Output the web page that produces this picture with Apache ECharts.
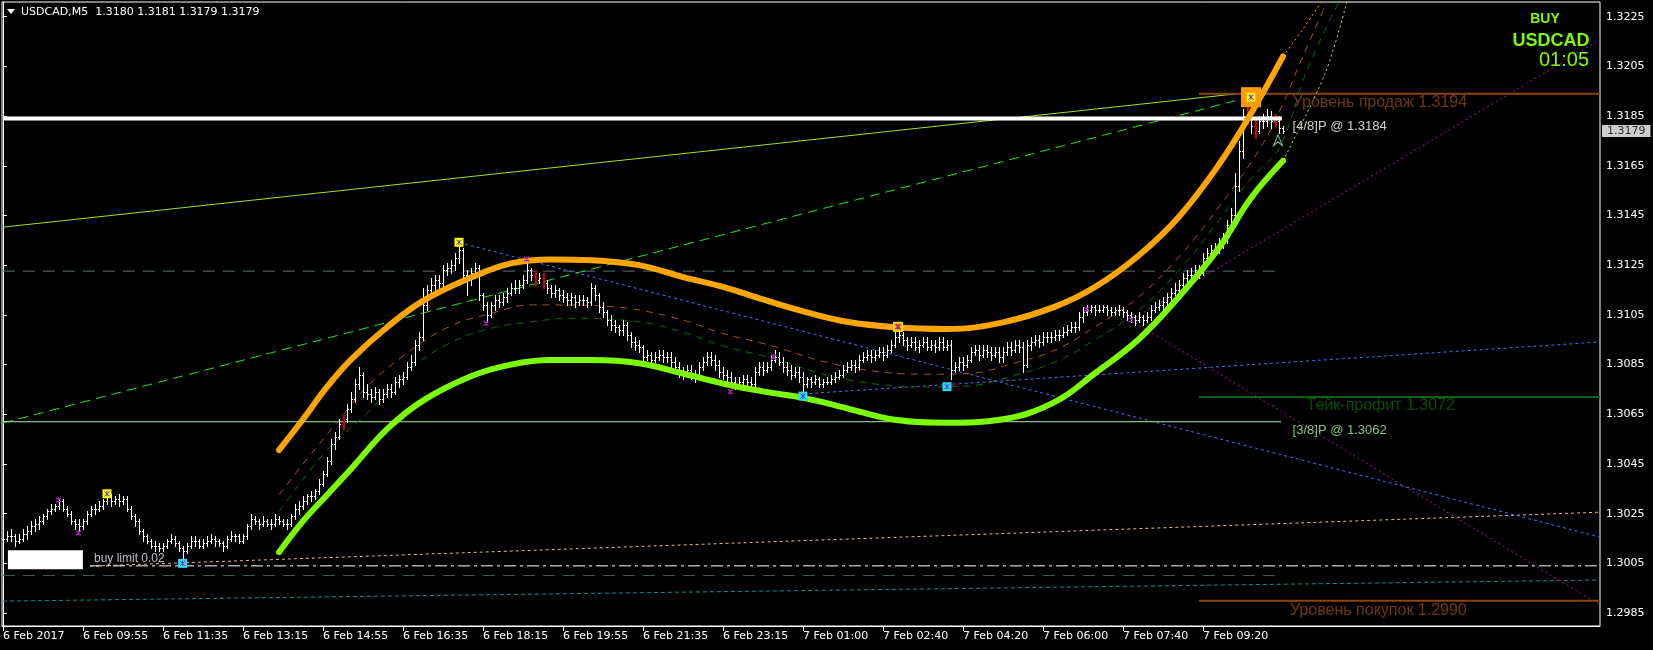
<!DOCTYPE html>
<html><head><meta charset="utf-8">
<script src="https://cdn.jsdelivr.net/npm/echarts@6/dist/echarts.min.js"></script>
<style>html,body{margin:0;padding:0;background:#000;}#c{width:1653px;height:650px;}</style>
</head><body><div id="c"></div>
<script>
// ---- DATA (prices as offsets in 0.0001 from 1.3000) ----
const timeLabelIdx = [0,20,40,60,80,100,120,140,160,180,200,220,240,260,280,300];
const timeLabels = ['6 Feb 2017','6 Feb 09:55','6 Feb 11:35','6 Feb 13:15','6 Feb 14:55','6 Feb 16:35','6 Feb 18:15','6 Feb 19:55','6 Feb 21:35','6 Feb 23:15','7 Feb 01:00','7 Feb 02:40','7 Feb 04:20','7 Feb 06:00','7 Feb 07:40','7 Feb 09:20'];
const priceTicks = [1.2985,1.3005,1.3025,1.3045,1.3065,1.3085,1.3105,1.3125,1.3145,1.3165,1.3185,1.3205,1.3225];

const openP = [15,15,16,16,14,15,17,18,20,21, 22,24,26,27,28,30,27,25,22,21, 20,22,25,27,27,28,30,32,30,31, 30,31,27,24,22,18,16,14,12,12,
11,12,14,15,13,11,10,12,14,14, 12,13,14,15,14,13,12,15,16,16, 14,16,20,23,22,21,22,21,21,23, 22,21,21,24,27,28,30,32,32,34,
37,41,46,53,56,61,63,67,71,77, 81,74,73,72,74,71,73,75,74,78, 79,80,84,86,93,96,109,115,117,119, 118,123,124,125,128,131,121,119,122,124,
113,109,105,109,111,110,112,114,116,116, 117,119,123,121,119,120,118,116,114,115, 113,112,111,112,110,111,111,110,116,113, 108,106,103,101,100,99,101,97,94,93,
92,88,89,87,88,89,88,88,86,84, 82,81,83,81,80,84,86,88,87,85, 82,81,80,78,77,78,79,78,77,82, 84,83,84,87,88,86,84,83,81,82,
80,77,79,78,79,77,78,78,79,80, 81,83,84,85,84,87,88,89,88,89, 90,89,91,93,96,97,95,93,94,92, 93,94,92,93,92,94,92,93,83,84,
86,85,87,90,91,89,91,90,89,90, 88,90,92,91,93,92,85,93,94,95, 94,96,96,96,97,97,98,99,100,100, 104,106,107,108,107,107,108,107,106,107,
107,106,105,104,103,104,103,104,107,108, 109,110,112,114,115,117,120,121,121,123, 122,128,130,131,132,134,136,141,145,157, 171,185,187,181,179,183,183,185,183,183, 180];
const highP = [17,18,19,17,17,19,20,22,23,24, 25,27,29,29,31,31,28,26,23,23, 23,26,28,29,30,31,33,33,32,33, 32,32,28,25,23,19,17,15,14,13,
13,15,17,16,14,12,13,16,16,15, 15,16,17,16,15,14,16,18,17,17, 17,21,25,24,23,24,23,23,25,24, 23,23,25,29,30,32,33,34,35,39,
42,48,55,58,63,65,69,74,79,84, 82,77,75,76,75,75,77,77,80,81, 82,86,89,95,98,116,117,120,121,121, 125,126,127,130,135,132,123,124,126,125,
114,110,110,113,113,114,116,118,119,119, 121,127,124,123,122,122,119,117,117,116, 115,114,114,113,113,113,112,118,117,114, 110,107,105,103,101,103,102,98,96,95,
93,91,90,90,91,91,90,90,88,86, 84,85,85,83,86,88,90,90,89,87, 84,83,82,80,80,81,81,80,84,86, 86,86,89,91,90,88,86,85,84,84,
82,80,80,81,80,79,80,81,82,83, 85,86,87,87,89,90,91,91,91,92, 92,93,95,98,100,98,96,96,96,95, 96,96,95,95,96,96,95,95,86,88,
88,89,92,93,93,93,93,92,92,92, 92,94,94,95,95,94,95,96,97,97, 98,98,98,99,99,100,101,102,102,106, 108,109,109,109,109,109,109,108,108,109,
108,107,106,105,106,105,106,109,110,111, 112,114,116,118,119,122,123,124,125,125, 130,132,133,134,136,138,143,148,162,175, 188,193,189,184,185,186,188,187,186,185, 181];
const lowP = [13,14,14,12,13,14,15,17,18,19, 21,23,25,26,27,26,24,21,19,18, 19,21,24,25,26,27,29,28,29,28, 29,26,23,20,17,14,13,11,10,10,
10,11,13,12,10,6,9,11,12,11, 11,12,13,12,12,10,11,14,14,13, 13,15,19,21,19,20,20,19,20,21, 20,19,20,23,25,27,29,30,31,33,
36,40,45,51,55,59,62,66,70,75, 72,71,70,71,69,70,72,72,73,76, 77,79,83,85,91,95,107,113,115,116, 116,121,122,123,126,118,113,117,120,111,
107,102,104,107,108,109,110,113,114,114, 116,118,119,117,118,116,114,112,112,111, 110,109,109,108,109,109,108,109,111,106, 104,101,99,98,97,97,95,92,91,90,
86,87,85,86,87,86,86,84,82,80, 79,80,79,78,79,83,85,85,83,80, 79,78,76,75,75,77,76,75,76,81, 81,82,83,86,85,82,81,79,80,78,
73,76,76,77,76,76,77,77,78,79, 80,82,83,82,83,86,87,86,87,88, 87,88,90,92,94,93,91,92,91,90, 92,91,91,90,91,91,91,79,82,83,
83,84,86,89,87,88,88,87,88,86, 86,89,89,90,90,82,84,91,93,92, 93,94,94,95,95,96,97,98,98,99, 102,105,106,105,106,106,105,105,105,105,
104,103,102,101,102,101,102,103,106,107, 107,108,111,113,114,116,118,119,120,120, 121,126,128,129,130,132,134,139,143,155, 168,182,178,176,178,180,181,180,181,178, 178];
const closeP = [15,16,16,14,15,17,18,20,21,22, 24,26,27,28,30,27,25,22,21,20, 22,25,27,27,28,30,32,30,31,30, 31,27,24,22,18,16,14,12,12,11,
12,14,15,13,11,10,12,14,14,12, 13,14,15,14,13,12,15,16,16,14, 16,20,23,22,21,22,21,21,23,22, 21,21,24,27,28,30,32,32,34,37,
41,46,53,56,61,63,67,71,77,81, 74,73,72,74,71,73,75,74,78,79, 80,84,86,93,96,109,115,117,119,118, 123,124,125,128,131,121,119,122,124,113,
109,105,109,111,110,112,114,116,116,117, 119,123,121,119,120,118,116,114,115,113, 112,111,112,110,111,111,110,116,113,108, 106,103,101,100,99,101,97,94,93,92,
88,89,87,88,89,88,88,86,84,82, 81,83,81,80,84,86,88,87,85,82, 81,80,78,77,78,79,78,77,82,84, 83,84,87,88,86,84,83,81,82,80,
77,79,78,79,77,78,78,79,80,81, 83,84,85,84,87,88,89,88,89,90, 89,91,93,96,97,95,93,94,92,93, 94,92,93,92,94,92,93,83,84,86,
85,87,90,91,89,91,90,89,90,88, 90,92,91,93,92,85,93,94,95,94, 96,96,96,97,97,98,99,100,100,104, 106,107,108,107,107,108,107,106,107,107,
106,105,104,103,104,103,104,107,108,109, 110,112,114,115,117,120,121,121,123,122, 128,130,131,132,134,136,141,145,157,171, 185,187,181,179,183,183,185,183,183,180, 179];
const redBars = [85,133,135,311,313,318];

// regression channel readings [bar index, offset]
const orangeBand = [[69,50.6],[75,63],[81,76],[87,87],[96,100],[105,110.6],[117,120],[127,125.7],[137,127.3],[147,127],[159,125],[170,120.2],[180,116.3],[190,111.2],[201,106],[211,102.2],[223,100],[236,99.3],[250,102],[263,108.3],[273,116.2],[284,129],[294,144.5],[304,165.5],[312,186],[320,209]];
const orangeProj = [[320,209],[325,220],[330,232]];
const limeBand = [[69,9.5],[75,22],[81,32.5],[87,43],[96,59],[105,70.5],[117,80.3],[127,85],[137,86.8],[147,86.8],[159,85.5],[170,81.4],[180,77.4],[190,74.2],[201,71.3],[211,67.4],[223,62.8],[236,61.6],[250,63],[263,70],[273,81.5],[284,95.3],[294,112.3],[304,132],[312,152],[320,167]];
const limeProj = [[320,167],[330.5,202],[336,231]];
const brownMid = [[69,32.6],[76,47],[84,62.7],[91,76.1],[101,89.6],[111.5,100.2],[122,105.6],[132,109],[142,109],[152,108.3],[159,107],[170,102.9],[180,97.5],[190,93.5],[211,84.1],[232,81.1],[242,81.5],[252.5,85.5],[263,90.8],[273,100.2],[284,112.3],[294,128.4],[304,148.5],[314,171.3],[320,190],[323.5,203.5],[331,231]];
const dkGreenMid = [[69,25.8],[81,50.6],[91,65.4],[101,82.1],[111.5,93.5],[122,99.6],[132,102.2],[142,103.6],[159,102.2],[170,98],[180,92.5],[190,88.5],[211,79],[232,76],[242,76.5],[252.5,80.5],[263,86],[273,95],[284,107],[294,123],[304,143],[312,160],[319,172],[326,203.5],[334,231]];

// straight objects [bar index, offset]
const yellowGreenTrend = [[0,140.3],[311.5,194.5]];
const greenDashTrend = [[0,61.5],[310.5,192.2]];
const blueTrendDown = [[115.5,133.5],[399.25,15.6]];
const blueTrendUp = [[200,73.2],[399.25,94.1]];
const magentaUp = [[282,102.9],[399.25,215.8]];
const magentaDown = [[282,102.9],[399.25,-11.8]];
const beigeTrend = [[21.75,3.9],[399.25,25.6]];
const tealTrend = [[0,-10.2],[399.25,-1.7]];
const level48 = [[0,184],[319.7,184]];
const level38 = [[0,62],[319.5,62]];
const greyLevel = [[0,122.6],[319.5,122.6]];
const tealLevel = [[0,0.1],[319.5,0.1]];
const buyLimitLevel = [[21.75,4],[399.25,4]];
const sellLevel = [[299,194],[399.25,194]];
const tpLevel = [[299,72],[399.25,72]];
const buyLevel = [[299,-10],[399.25,-10]];

// markers [bar index, offset]
const purpleMarks = [[13.85,30.5],[18.85,17.3],[120.75,101.6],[130.9,127.5],[181.85,74.1],[192.6,88.1],[223.75,100.2],[270.9,107.2],[282,102.9]];
const yellowMarks = [[26,33],[114,134.2]];
const cyanMarks = [[44.9,5.0],[200,72.3],[236,76.1]];
const orangeSmallMarks = [[223.75,100.2]];
const bigOrangeMarks = [[312,192.6]];
const arrowMarks = [[318.75,175.3]];
const currentPrice = 1.3179;

// ---- build ----
const toP = v => 1.3 + v / 10000;
const conv = a => a.map(p => [p[0], toP(p[1])]);
const bars = closeP.map((c, i) => [i, toP(openP[i]), toP(highP[i]), toP(lowP[i]), toP(c), redBars.indexOf(i) >= 0 ? 1 : 0]);

const FONT = 'DejaVu Sans';
function line(pts, color, width, type, opts) {
  return Object.assign({
    type: 'line', data: conv(pts), symbol: 'none', showSymbol: false, silent: true,
    animation: false, clip: true, z: 3,
    lineStyle: { color: color, width: width, type: type || 'solid', cap: 'butt' }
  }, opts || {});
}
function marks(pts, symbol, size, color, border, bw, z) {
  return { type: 'scatter', data: conv(pts), symbol: symbol, symbolSize: size, silent: true, animation: false, clip: false, z: z || 8,
    itemStyle: { color: color, borderColor: border || color, borderWidth: bw || 0, opacity: 1 } };
}
const XPATH = 'path://M0,0L6,6M6,0L0,6M3,0L3,6';

const texts = [
  { at: [322.4, 194], text: 'Уровень продаж 1.3194', color: '#8b4513', size: 16, dy: 9 },
  { at: [325.9, 72], text: 'Тейк-профит 1.3072', color: '#0a600a', size: 16, dy: 9 },
  { at: [321.75, -10], text: 'Уровень покупок 1.2990', color: '#8b4513', size: 16, dy: 10 },
  { at: [322.4, 184], text: '[4/8]P @ 1.3184', color: '#ffffff', size: 13, dy: 8 },
  { at: [322.4, 62], text: '[3/8]P @ 1.3062', color: '#a0f0a0', size: 13, dy: 9 },
  { at: [22.75, 4], text: 'buy limit 0.02', color: '#e4e4f0', size: 12, dy: -7 }
];

const chart = echarts.init(document.getElementById('c'), null, { renderer: 'canvas' });
const option = {
  backgroundColor: '#000000',
  animation: false,
  grid: { left: 2, right: 53, top: 2, bottom: 24, show: true, borderColor: '#ffffff', borderWidth: 1, backgroundColor: 'transparent' },
  xAxis: {
    type: 'value', min: -0.25, max: 399.25,
    axisLine: { show: true, lineStyle: { color: '#ffffff', width: 1 } },
    axisTick: { show: true, customValues: timeLabelIdx, length: 5, lineStyle: { color: '#ffffff' } },
    axisLabel: { customValues: timeLabelIdx, formatter: v => timeLabels[timeLabelIdx.indexOf(Math.round(v))] || '',
      color: '#ffffff', fontFamily: FONT, fontSize: 11, align: 'left', margin: 5 },
    splitLine: { show: false }
  },
  yAxis: {
    type: 'value', position: 'right', min: 1.29798, max: 1.32309,
    axisLine: { show: true, lineStyle: { color: '#ffffff', width: 1 } },
    axisTick: { show: true, customValues: priceTicks, length: 4, lineStyle: { color: '#ffffff' } },
    axisLabel: { customValues: priceTicks, formatter: v => v.toFixed(4), color: '#ffffff', fontFamily: FONT, fontSize: 11, margin: 6 },
    splitLine: { show: false }
  },
  series: [
    // background thin objects
    line(greyLevel, '#566e6e', 1, [12, 8], { z: 1 }),
    line(tealLevel, '#3f5a5a', 1, [12, 8], { z: 1 }),
    line(tealTrend, '#109090', 1, [4, 3], { z: 1 }),
    line(beigeTrend, '#e0b890', 1, [3, 3], { z: 1 }),
    line(buyLimitLevel, '#ffffff', 1, [12, 4, 3, 4], { z: 1 }),
    line(blueTrendDown, '#4a6ef0', 1, [3, 3], { z: 1 }),
    line(blueTrendUp, '#4a6ef0', 1, [3, 3], { z: 1 }),
    line(magentaUp, '#9a1a9a', 1, [2, 3], { z: 1 }),
    line(magentaDown, '#9a1a9a', 1, [2, 3], { z: 1 }),
    line(yellowGreenTrend, '#a6e22a', 1, 'solid', { z: 1 }),
    line(greenDashTrend, '#18e818', 1, [10, 6], { z: 1 }),
    line(level38, '#a8f0a0', 1, 'solid', { z: 1 }),
    line(sellLevel, '#8b4513', 2, 'solid', { z: 1 }),
    line(tpLevel, '#0a640a', 2, 'solid', { z: 1 }),
    line(buyLevel, '#8b4513', 2, 'solid', { z: 1 }),
    line(brownMid, '#a0522d', 1, [7, 6], { z: 1, smooth: 0.4 }),
    line(dkGreenMid, '#0b6b0b', 1, [7, 6], { z: 1, smooth: 0.4 }),
    // OHLC bars
    {
      type: 'custom', z: 2, animation: false, silent: true, clip: true,
      data: bars,
      encode: { x: 0, y: [1, 2, 3, 4] },
      renderItem: function (params, api) {
        const i = api.value(0);
        const pH = api.coord([i, api.value(2)]);
        const pL = api.coord([i, api.value(3)]);
        const pO = api.coord([i, api.value(1)]);
        const pC = api.coord([i, api.value(4)]);
        const red = api.value(5) === 1;
        const col = red ? '#d40000' : '#ffffff';
        const x = Math.round(pH[0]);
        const yh = Math.round(pH[1]), yl = Math.round(pL[1]);
        return { type: 'group', children: [
          { type: 'rect', shape: { x: x, y: yh, width: red ? 2 : 1, height: Math.max(1, yl - yh + 1) }, style: { fill: col } },
          { type: 'rect', shape: { x: x - 1, y: Math.round(pO[1]), width: 1, height: 1 }, style: { fill: col } },
          { type: 'rect', shape: { x: x + 1, y: Math.round(pC[1]), width: 1, height: 1 }, style: { fill: col } }
        ] };
      }
    },
    // white level over bars
    line(level48, '#ffffff', 4, 'solid', { z: 4 }),
    // channel
    line(orangeBand, '#ffa500', 6, 'solid', { z: 5, smooth: 0.4, lineStyle: { color: '#ffa500', width: 6, cap: 'round' } }),
    line(limeBand, '#7cfc00', 6, 'solid', { z: 5, smooth: 0.4, lineStyle: { color: '#7cfc00', width: 6, cap: 'round' } }),
    line(orangeProj, '#ffa500', 1, [2, 3], { z: 5, smooth: 0.3 }),
    line(limeProj, '#c8f020', 1, [2, 3], { z: 5, smooth: 0.3 }),
    // markers
    marks(bigOrangeMarks, 'rect', 20, '#ff9a00', '#ff9a00', 0, 8),
    marks(bigOrangeMarks, 'rect', 9, '#ffee22', '#ffee22', 0, 9),
    marks(yellowMarks, 'rect', 9, '#ffff00', '#ffff00', 0, 8),
    marks(orangeSmallMarks, 'rect', 9, '#ffb000', '#ffff00', 1, 8),
    marks(cyanMarks, 'rect', 9, '#30d8f8', '#30d8f8', 0, 8),
    marks(yellowMarks.concat(cyanMarks, bigOrangeMarks), XPATH, 5, 'rgba(0,0,0,0)', '#4a40c8', 1, 10),
    marks(purpleMarks, XPATH, 5, 'rgba(0,0,0,0)', '#a020b0', 1.2, 10),
    marks(arrowMarks, 'path://M5,0L10,12L5,8L0,12Z', [9, 11], 'rgba(0,0,0,0)', '#7cc8a0', 1, 10),
    // text annotations
    {
      type: 'scatter', z: 12, silent: true, animation: false, clip: false, symbolSize: 0,
      data: texts.map(t => ({ value: [t.at[0], toP(t.at[1])],
        label: { show: true, position: 'right', distance: 0, offset: [0, t.dy], formatter: t.text,
          color: t.color, fontSize: t.size, fontFamily: 'Liberation Sans' } })),
      itemStyle: { color: 'rgba(0,0,0,0)' }
    },
    // white box of trade label
    {
      type: 'scatter', z: 12, silent: true, animation: false, clip: false,
      data: [[10.6, toP(6.5)]], symbol: 'rect', symbolSize: [75, 19], itemStyle: { color: '#ffffff', opacity: 1 }
    },
    // current price tag
    {
      type: 'scatter', z: 12, silent: true, animation: false, clip: false, symbolSize: 0,
      data: [[399.25, currentPrice]],
      label: { show: true, position: 'right', distance: 2, formatter: currentPrice.toFixed(4),
        backgroundColor: '#ffffff', color: '#000000', fontFamily: FONT, fontSize: 11, padding: [1, 5, 0, 5] }
    }
  ],
  graphic: [
    { type: 'polygon', shape: { points: [[7, 9], [15, 9], [11, 14]] }, style: { fill: '#ffffff' }, z: 20 },
    { type: 'text', z: 20, style: { x: 21, y: 12.5, text: 'USDCAD,M5  1.3180 1.3181 1.3179 1.3179', fill: '#ffffff',
      font: '11px "DejaVu Sans"', textVerticalAlign: 'middle', verticalAlign: 'middle' } },
    { type: 'text', z: 20, style: { x: 1545, y: 19, text: 'BUY', fill: '#7cfc00', font: 'bold 14px "Liberation Sans"',
      textAlign: 'center', align: 'center', textVerticalAlign: 'middle', verticalAlign: 'middle' } },
    { type: 'text', z: 20, style: { x: 1551, y: 40.6, text: 'USDCAD', fill: '#7cfc00', font: 'bold 18px "Liberation Sans"',
      textAlign: 'center', align: 'center', textVerticalAlign: 'middle', verticalAlign: 'middle' } },
    { type: 'text', z: 20, style: { x: 1589, y: 60, text: '01:05', fill: '#7cfc00', font: '20px "Liberation Sans"',
      textAlign: 'right', align: 'right', textVerticalAlign: 'middle', verticalAlign: 'middle' } }
  ]
};
chart.setOption(option);
</script>
</body></html>
